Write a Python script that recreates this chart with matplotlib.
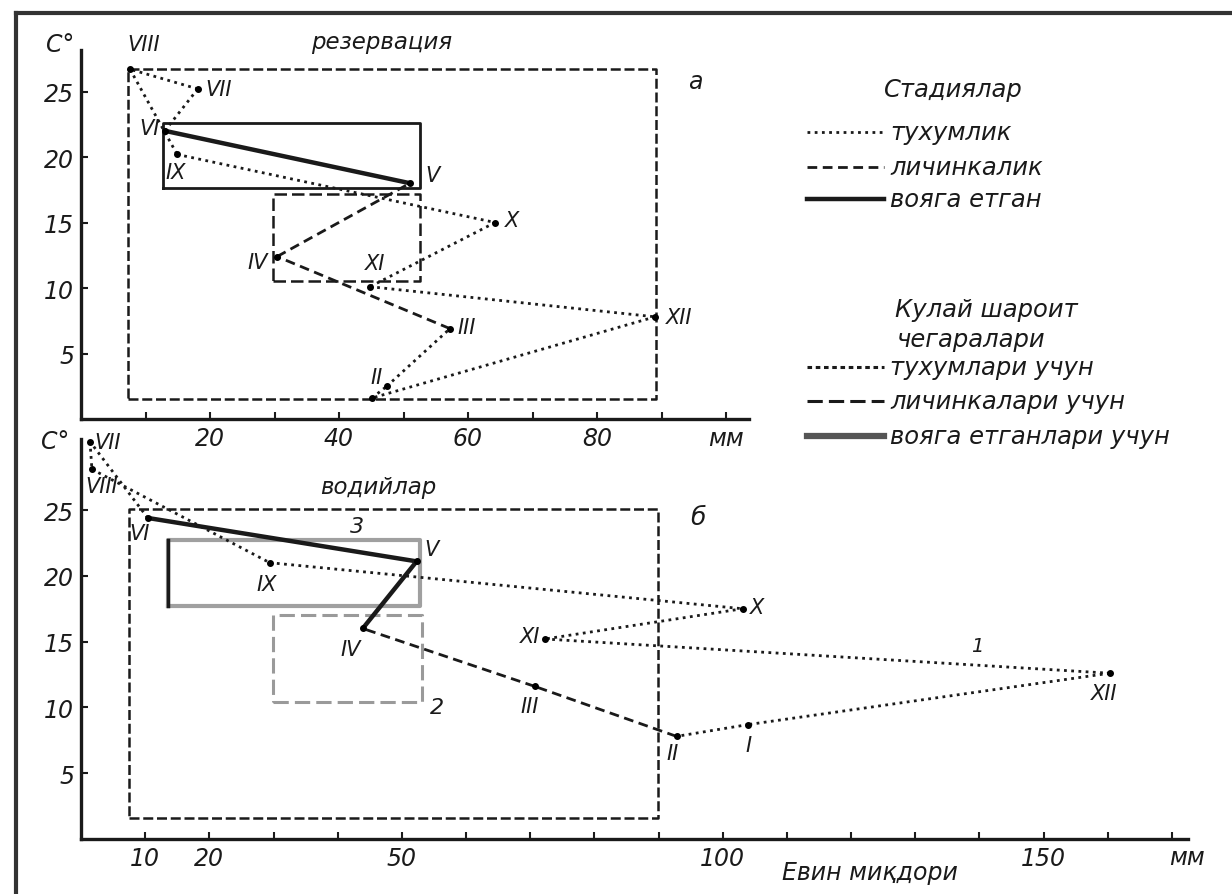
import matplotlib
matplotlib.use("Agg")
import matplotlib.pyplot as plt
from matplotlib.lines import Line2D

# months I..XII, points are (x, temperature)
months = ["I", "II", "III", "IV", "V", "VI", "VII", "VIII", "IX", "X", "XI", "XII"]

# panel а - резервация
top_x = [45.1, 47.4, 57.2, 30.4, 51.0, 13.0, 18.1, 7.6, 14.9, 64.2, 44.8, 89.0]
top_y = [1.6, 2.5, 6.9, 12.4, 18.0, 22.0, 25.2, 26.7, 20.2, 15.0, 10.1, 7.8]
# stage of segment month i -> month i+1
top_stage = ["egg", "egg", "larva", "larva", "adult", "egg",
             "egg", "egg", "egg", "egg", "egg", "egg"]

# panel б - водийлар
bot_x = [104.0, 92.8, 70.7, 43.9, 52.3, 10.4, 1.4, 1.7, 29.4, 103.1, 72.3, 160.3]
bot_y = [8.7, 7.8, 11.6, 16.0, 21.1, 24.4, 30.2, 28.1, 21.0, 17.5, 15.2, 12.6]
bot_stage = ["egg", "larva", "larva", "adult", "adult", "egg",
             "egg", "egg", "egg", "egg", "egg", "egg"]

# favourable limits (x0, x1, y0, y1)
top_limits = {"egg": (7.3, 89.1, 1.5, 26.7),
              "larva": (29.8, 52.6, 10.5, 17.2),
              "adult": (12.7, 52.6, 17.6, 22.6)}
bot_limits = {"egg": (7.5, 89.9, 1.6, 25.1),
              "larva": (29.9, 53.1, 10.4, 17.0),
              "adult": (13.6, 52.8, 17.7, 22.7)}

y_ticks = [5, 10, 15, 20, 25]
top_xticks = list(range(10, 101, 10))
top_xlabels = ["", "20", "", "40", "", "60", "", "80", "", "мм"]
bot_xticks = list(range(10, 171, 10))
bot_xlabels = [str(v) if v in (10, 20, 50, 100, 150) else "" for v in bot_xticks]

# label offsets (points) for the month names
top_off = {"II": (-7, 7), "III": (12, 1), "IV": (-14, -4), "V": (16, 6),
           "VI": (-11, 2), "VII": (15, 0), "VIII": (10, 18), "IX": (-1, -13),
           "X": (12, 2), "XI": (4, 17), "XII": (17, 0)}
bot_off = {"I": (0, -15), "II": (-3, -12), "III": (-4, -14), "IV": (-9, -15),
           "V": (11, 9), "VI": (-6, -11), "VII": (13, 0), "VIII": (7, -12),
           "IX": (-2, -15), "X": (10, 1), "XI": (-11, 2), "XII": (-4, -14)}

INK = "#1a1a1a"
STAGE = {"egg": dict(ls=(0, (1.0, 1.6)), lw=2.0, color=INK),
         "larva": dict(ls=(0, (3.5, 2.0)), lw=2.0, color=INK),
         "adult": dict(ls="-", lw=3.2, color=INK)}

plt.rcParams["font.family"] = ["DejaVu Sans"]
plt.rcParams["font.style"] = "italic"

W, H = 1232, 895
fig = plt.figure(figsize=(12.32, 8.95), dpi=100)


def fx(px):
    return px / W


def fy(py):
    return 1 - py / H


def setup(ax, xmax, ymax, xticks, xlabels):
    for s in ["top", "right"]:
        ax.spines[s].set_visible(False)
    for s in ["left", "bottom"]:
        ax.spines[s].set_linewidth(2.4)
        ax.spines[s].set_color(INK)
    ax.set_xlim(0, xmax)
    ax.set_ylim(0, ymax)
    ax.set_xticks(xticks)
    ax.set_xticklabels(xlabels)
    ax.set_yticks(y_ticks)
    ax.tick_params(direction="in", length=5, width=1.5, labelsize=17,
                   pad=5, colors=INK)
    ax.patch.set_alpha(0)


def rect(ax, box, **kw):
    x0, x1, y0, y1 = box
    ax.plot([x0, x1, x1, x0, x0], [y0, y0, y1, y1, y0], clip_on=False, **kw)


def path(ax, xs, ys, stages, offs):
    n = len(xs)
    for i in range(n):
        j = (i + 1) % n
        ax.plot([xs[i], xs[j]], [ys[i], ys[j]], clip_on=False,
                solid_capstyle="butt", **STAGE[stages[i]])
    ax.plot(xs, ys, "o", ms=4, color="#000", ls="none", clip_on=False)
    for m, x, y in zip(months, xs, ys):
        if m in offs:
            ax.annotate(m, (x, y), xytext=offs[m], textcoords="offset points",
                        ha="center", va="center", fontsize=15, color=INK)


# --- panel а ---
ax1 = fig.add_axes([fx(81), fy(420), 667.6 / W, 369.4 / H])
setup(ax1, 103.5, 28.2, top_xticks, top_xlabels)
rect(ax1, top_limits["egg"], ls=(0, (4, 1.5)), lw=1.8, color=INK)
rect(ax1, top_limits["larva"], ls=(0, (5, 2)), lw=1.8, color=INK)
rect(ax1, top_limits["adult"], ls="-", lw=2.0, color=INK)
path(ax1, top_x, top_y, top_stage, top_off)

# --- panel б ---
ax2 = fig.add_axes([fx(81), fy(840), 1107 / W, 400 / H])
setup(ax2, 172.5, 30.4, bot_xticks, bot_xlabels)
rect(ax2, bot_limits["egg"], ls=(0, (4, 1.5)), lw=1.8, color=INK)
rect(ax2, bot_limits["larva"], ls=(0, (5, 2)), lw=2.2, color="#9a9a9a")
rect(ax2, bot_limits["adult"], ls="-", lw=3.0, color="#a0a0a0")
x0, x1, y0, y1 = bot_limits["adult"]
ax2.plot([x0, x0], [y0, y1], color=INK, lw=2.5)
path(ax2, bot_x, bot_y, bot_stage, bot_off)

# --- free texts ---
txt = dict(color=INK, ha="center", va="center")
fig.text(fx(60), fy(45), "C°", fontsize=17, **txt)
fig.text(fx(55), fy(442), "C°", fontsize=17, **txt)
fig.text(fx(382), fy(43), "резервация", fontsize=16.5, **txt)
fig.text(fx(695), fy(82), "а", fontsize=17, **txt)
fig.text(fx(378), fy(488), "водийлар", fontsize=16.5, **txt)
fig.text(fx(698), fy(518), "б", fontsize=18, **txt)
fig.text(fx(357), fy(527), "3", fontsize=16, **txt)
fig.text(fx(437), fy(708), "2", fontsize=16, **txt)
fig.text(fx(977), fy(647), "1", fontsize=14, **txt)
fig.text(fx(870), fy(873), "Евин миқдори", fontsize=17, **txt)
fig.text(fx(1187), fy(858), "мм", fontsize=17, **txt)

# --- legend ---
fig.text(fx(953), fy(90), "Стадиялар", fontsize=17.5, **txt)
leg = [(133, "тухумлик", STAGE["egg"]),
       (168, "личинкалик", STAGE["larva"]),
       (200, "вояга етган", STAGE["adult"]),
       (368, "тухумлари учун", dict(ls=(0, (1.5, 1.2)), lw=2.2, color=INK)),
       (402, "личинкалари учун", dict(ls=(0, (5, 2)), lw=2.2, color=INK)),
       (437, "вояга етганлари учун", dict(ls="-", lw=4.5, color="#555555"))]
for py, label, st in leg:
    fig.add_artist(Line2D([fx(807), fx(884)], [fy(py), fy(py)], **st))
    fig.text(fx(890), fy(py), label, fontsize=17.5, color=INK, ha="left", va="center")
fig.text(fx(895), fy(310), "Кулай шароит", fontsize=17.5, color=INK, ha="left", va="center")
fig.text(fx(897), fy(340), "чегаралари", fontsize=17.5, color=INK, ha="left", va="center")

# scan frame
fig.add_artist(Line2D([fx(16), fx(16)], [fy(14), 0], lw=3, color="#333"))
fig.add_artist(Line2D([fx(16), 1], [fy(14), fy(14)], lw=3, color="#333"))

fig.savefig("out.png", dpi=100, facecolor="white")
